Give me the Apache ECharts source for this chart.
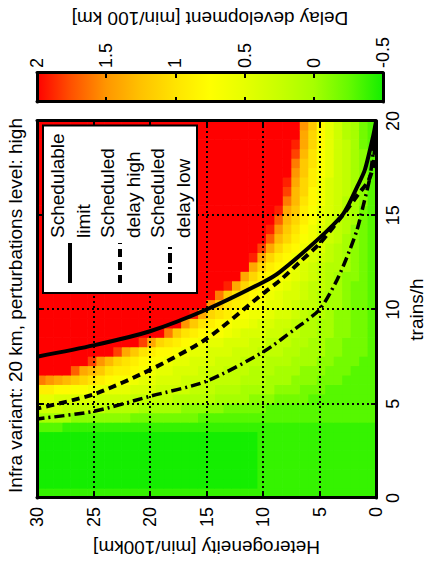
<!DOCTYPE html>
<html>
<head>
<meta charset="utf-8">
<script src="https://cdn.jsdelivr.net/npm/echarts@6/dist/echarts.min.js"></script>
<style>
html, body { margin: 0; padding: 0; background: #fff; overflow: hidden; }
/* the figure is laid out landscape and turned a quarter turn, like the source plot */
#chart { position: absolute; left: 0; top: 0; width: 565px; height: 431px;
  transform-origin: 0 0; transform: translate(0, 565px) rotate(-90deg); }
</style>
</head>
<body>
<div id="chart"></div>
<script>
// bin edges of the delay map
const trainEdges = [0, 0.5, 1, 1.5, 2, 2.5, 3, 3.5, 4, 4.5, 5, 5.5, 6, 6.5, 7, 7.5, 8, 8.5, 9, 9.5, 10,
  10.5, 11, 11.5, 12, 12.5, 13, 13.5, 14, 14.5, 15, 15.5, 16, 16.5, 17, 17.5, 18, 18.5, 19, 19.5, 20];
const hetEdges = [0, 0.75, 1.5, 2.25, 3, 3.75, 4.5, 5.25, 6, 6.75, 7.5, 8.25, 9, 9.75, 10.5, 11.25, 12,
  12.75, 13.5, 14.25, 15, 15.75, 16.5, 17.25, 18, 18.75, 19.5, 20.25, 21, 21.75, 22.5, 23.25, 24, 24.75,
  25.5, 26.25, 27, 27.75, 28.5, 29.25, 30];

// letter -> delay development [min/100 km]
const delayCodes = 'abcdefghijklmnopqrstuvwxyz';
const delayCodeValues = [-0.5, -0.4, -0.3, -0.2, -0.1, 0, 0.1, 0.2, 0.3, 0.4, 0.5, 0.6, 0.7, 0.8, 0.9,
  1, 1.1, 1.2, 1.3, 1.4, 1.5, 1.6, 1.7, 1.8, 1.9, 2];

// one row per trains/h bin (0-0.5 first), one letter per heterogeneity bin (0-0.75 first)
const delayRows = [
  'bbbbbbbbbb bbbbbbbbbb bbbbbbbbbb bbbbbbbbbb',
  'bbbbbbbbbb bbbbaaaaaa aaaaaaaaaa aaaaaaaaaa',
  'bbbbbbbbbb bbbbaaaaaa aaaaaaaaaa aaaaaaaaaa',
  'bbbbbbbbbb bbbbaaaaaa aaaaaaaaaa aaaaaaaaaa',
  'bbbbbbbbbb bbbbaaaaaa aaaaaaaaaa aaaaaaaaaa',
  'bbbbbbbbbb bbbbaaaaaa aaaaaaaaaa aaaaaaaaaa',
  'bbbbbbbbbb bbbbaaaaaa aaaaaaaaaa aaaaaaaaaa',
  'bbbbbbbbbb bbbbbbbbbb bbbbbbbbbb bbbbbbbccc',
  'cccccccccc cccccccccc cdddddddde eeeeeeffff',
  'cccccccccc cccdddddee eeefffffgg gghhhhhiii',
  'ccccccccdd ddeeeffffg gggghhhhhi iiijjjjjkk',
  'ccccccddde eeffffgggh hhiiiijjjk kkllmmnnoo',
  'ccccdddeee fffggghhhh iiijjjkklm mnopqrstuv',
  'cccdddeeef ffggghhhii ijjjkklmno oprstwzzzz',
  'ccdddeefff ggghhhiiij jjkklmmnop qsuxzzzzzz',
  'cdddeefffg ghhhiiijjj kklmnnoprt xzzzzzzzzz',
  'cdddeeffgg hhhiijjjkk lmnopqtxzz zzzzzzzzzz',
  'cddeeffggh hiijjjklmm noprvzzzzz zzzzzzzzzz',
  'cddeeffggh iijjkllmno pruzzzzzzz zzzzzzzzzz',
  'cddeefgghi jjkllmnopq tyzzzzzzzz zzzzzzzzzz',
  'cddeffghhi jkklmnopru zzzzzzzzzz zzzzzzzzzz',
  'cddeffghij jklmnoprvz zzzzzzzzzz zzzzzzzzzz',
  'cddefghhij klmnoqtyzz zzzzzzzzzz zzzzzzzzzz',
  'cdeefghijk lmnoqtzzzz zzzzzzzzzz zzzzzzzzzz',
  'cdefgghijk mnoqtzzzzz zzzzzzzzzz zzzzzzzzzz',
  'cdefghijkl noqtyzzzzz zzzzzzzzzz zzzzzzzzzz',
  'cdefghjkln oqtxzzzzzz zzzzzzzzzz zzzzzzzzzz',
  'cdefhijlmo qswzzzzzzz zzzzzzzzzz zzzzzzzzzz',
  'cdeghijlnp ruyzzzzzzz zzzzzzzzzz zzzzzzzzzz',
  'cdfghikmoq swzzzzzzzz zzzzzzzzzz zzzzzzzzzz',
  'cdfgijkmor tyzzzzzzzz zzzzzzzzzz zzzzzzzzzz',
  'cefgijlnps vzzzzzzzzz zzzzzzzzzz zzzzzzzzzz',
  'cefhijlnqs xzzzzzzzzz zzzzzzzzzz zzzzzzzzzz',
  'cefhijloqt yzzzzzzzzz zzzzzzzzzz zzzzzzzzzz',
  'cefhikmoru zzzzzzzzzz zzzzzzzzzz zzzzzzzzzz',
  'cefhikmprv zzzzzzzzzz zzzzzzzzzz zzzzzzzzzz',
  'cefhikmpsx zzzzzzzzzz zzzzzzzzzz zzzzzzzzzz',
  'cdfhiknqty zzzzzzzzzz zzzzzzzzzz zzzzzzzzzz',
  'cdfgiknqtz zzzzzzzzzz zzzzzzzzzz zzzzzzzzzz',
  'cdfgiknruz zzzzzzzzzz zzzzzzzzzz zzzzzzzzzz'
];

// colormap (evenly spaced from -0.5 to 2)
const cmapStops = [-0.5, -0.25, 0, 0.25, 0.5, 0.75, 1, 1.25, 1.5, 1.75, 2];
const cmapColors = ['#14ee00', '#66fa00', '#a6ff00', '#c8ff00', '#e6ff00', '#ffff00',
  '#ffe400', '#ffc200', '#ff9600', '#ff5200', '#ff0000'];
const cbTicks = [-0.5, 0, 0.5, 1, 1.5, 2];

// curves, read as heterogeneity -> trains/h
const limitHet = [0, 0.26, 1.0, 1.6, 2.4, 3.0, 5.0, 8.5, 10, 15, 20, 25, 30];
const limitTrains = [20, 19.2, 17.4, 16.6, 15.6, 15.0, 13.8, 12.0, 11.45, 10.0, 8.85, 8.1, 7.5];
const highHet = [0, 0.1, 0.26, 0.7, 1.6, 2.7, 5.0, 6.6, 8.5, 10, 15, 20, 25, 30];
const highTrains = [20, 18.6, 17.6, 16.8, 16.1, 15.2, 13.5, 12.6, 11.55, 10.85, 8.45, 6.8, 5.5, 4.75];
const lowHet = [0, 0.25, 0.55, 1.1, 1.7, 2.7, 3.6, 5.0, 7.1, 10, 15, 20, 25, 30];
const lowTrains = [20, 18.4, 17.0, 15.6, 14.2, 12.6, 11.4, 10.0, 9.0, 7.75, 6.2, 5.4, 4.6, 4.2];

const font = "'Liberation Sans', Arial, Helvetica, sans-serif";
const black = '#000';

const cells = [];
delayRows.forEach((r, i) => {
  const row = r.replace(/ /g, '');
  if (row.length !== hetEdges.length - 1) throw new Error('delay row ' + i + ' has ' + row.length + ' cells');
  for (let j = 0; j < row.length; j++) {
    cells.push([trainEdges[i], trainEdges[i + 1], hetEdges[j], hetEdges[j + 1],
      delayCodeValues[delayCodes.indexOf(row[j])]]);
  }
});

const curve = (hets, trains) => hets.map((h, k) => [trains[k], h]);

function boxAxis(extra) {
  return Object.assign({
    type: 'value', z: 3,
    axisLine: { show: true, onZero: false, lineStyle: { color: black, width: 3 } },
    axisTick: { show: true, inside: true, length: 5, lineStyle: { color: black, width: 2 } },
    axisLabel: { show: false },
    splitLine: { show: false }
  }, extra);
}
const tickLabel = (margin) => ({ show: true, fontSize: 18, color: black, fontFamily: font, margin: margin });
const nameStyle = { fontSize: 19, color: black, fontFamily: font };
const dotted = { show: true, lineStyle: { color: black, width: 2, type: [2, 3] } };

const chart = echarts.init(document.getElementById('chart'), null, { renderer: 'svg' });

chart.setOption({
  animation: false,
  backgroundColor: '#fff',
  title: {
    text: 'Infra variant: 20 km, perturbations level: high',
    left: 254.5, top: 1, textAlign: 'center',
    textStyle: { fontSize: 19, fontWeight: 'normal', color: black, fontFamily: font }
  },
  grid: [
    { left: 65, top: 37, width: 379, height: 346 },
    { left: 463, top: 37, width: 29, height: 346 }
  ],
  xAxis: [
    boxAxis({ gridIndex: 0, position: 'bottom', min: 0, max: 20, interval: 5,
      name: 'trains/h', nameLocation: 'middle', nameGap: 30, nameTextStyle: nameStyle,
      axisLabel: tickLabel(8), splitLine: dotted }),
    boxAxis({ gridIndex: 0, position: 'top', min: 0, max: 20, interval: 5 }),
    boxAxis({ gridIndex: 1, position: 'bottom', min: 0, max: 1, axisTick: { show: false } }),
    boxAxis({ gridIndex: 1, position: 'top', min: 0, max: 1, axisTick: { show: false } })
  ],
  yAxis: [
    boxAxis({ gridIndex: 0, position: 'left', min: 0, max: 30, interval: 5,
      name: 'Heterogeneity [min/100km]', nameLocation: 'middle', nameRotate: 90, nameGap: 38,
      nameTextStyle: nameStyle, axisLabel: tickLabel(9), splitLine: dotted }),
    boxAxis({ gridIndex: 0, position: 'right', min: 0, max: 30, interval: 5 }),
    boxAxis({ gridIndex: 1, position: 'right', min: cbTicks[0], max: cbTicks[cbTicks.length - 1], interval: 0.5,
      name: 'Delay development [min/100 km]', nameLocation: 'middle', nameRotate: 90, nameGap: 45,
      nameTextStyle: nameStyle, axisLabel: tickLabel(5) }),
    boxAxis({ gridIndex: 1, position: 'left', min: cbTicks[0], max: cbTicks[cbTicks.length - 1], interval: 0.5 })
  ],
  visualMap: {
    type: 'continuous', show: false, seriesIndex: 0, dimension: 4,
    min: cmapStops[0], max: cmapStops[cmapStops.length - 1],
    inRange: { color: cmapColors }
  },
  legend: {
    data: ['Schedulable\nlimit', 'Scheduled\ndelay high', 'Scheduled\ndelay low'],
    orient: 'vertical', left: 272, top: 43, padding: [1, 8, 1, 8], itemGap: -2,
    itemWidth: 40, itemHeight: 14, selectedMode: false, z: 10,
    backgroundColor: '#fff', borderColor: black, borderWidth: 2, borderRadius: 0,
    itemStyle: { opacity: 0 },
    lineStyle: { width: 4 },
    textStyle: { fontSize: 19, lineHeight: 26, color: black, fontFamily: font }
  },
  series: [
    {
      type: 'custom', xAxisIndex: 0, yAxisIndex: 0, z: 1, silent: true,
      data: cells, encode: { x: [0, 1], y: [2, 3] },
      renderItem: (params, api) => {
        const a = api.coord([api.value(0), api.value(3)]);
        const b = api.coord([api.value(1), api.value(2)]);
        return {
          type: 'rect',
          shape: { x: a[0], y: a[1] - 0.7, width: b[0] - a[0] + 0.7, height: b[1] - a[1] + 0.7 },
          style: { fill: api.visual('color') }
        };
      }
    },
    {
      type: 'custom', xAxisIndex: 2, yAxisIndex: 2, z: 1, silent: true,
      data: [[0, 1, cmapStops[0], cmapStops[cmapStops.length - 1]]],
      encode: { x: [0, 1], y: [2, 3] },
      renderItem: (params, api) => {
        const a = api.coord([api.value(0), api.value(3)]);
        const b = api.coord([api.value(1), api.value(2)]);
        const lo = cmapStops[0], hi = cmapStops[cmapStops.length - 1];
        return {
          type: 'rect',
          shape: { x: a[0], y: a[1], width: b[0] - a[0], height: b[1] - a[1] },
          style: {
            fill: new echarts.graphic.LinearGradient(0, 1, 0, 0,
              cmapStops.map((v, k) => ({ offset: (v - lo) / (hi - lo), color: cmapColors[k] })))
          }
        };
      }
    },
    {
      name: 'Schedulable\nlimit', type: 'line', xAxisIndex: 0, yAxisIndex: 0, z: 4,
      data: curve(limitHet, limitTrains), symbol: 'none', smooth: 0.25, silent: true,
      lineStyle: { color: black, width: 4, type: 'solid' }
    },
    {
      name: 'Scheduled\ndelay high', type: 'line', xAxisIndex: 0, yAxisIndex: 0, z: 4,
      data: curve(highHet, highTrains), symbol: 'none', smooth: 0.25, silent: true,
      lineStyle: { color: black, width: 4, type: [8, 5] }
    },
    {
      name: 'Scheduled\ndelay low', type: 'line', xAxisIndex: 0, yAxisIndex: 0, z: 4,
      data: curve(lowHet, lowTrains), symbol: 'none', smooth: 0.25, silent: true,
      lineStyle: { color: black, width: 3.5, type: [10, 4, 2, 4] }
    }
  ]
});
</script>
</body>
</html>
